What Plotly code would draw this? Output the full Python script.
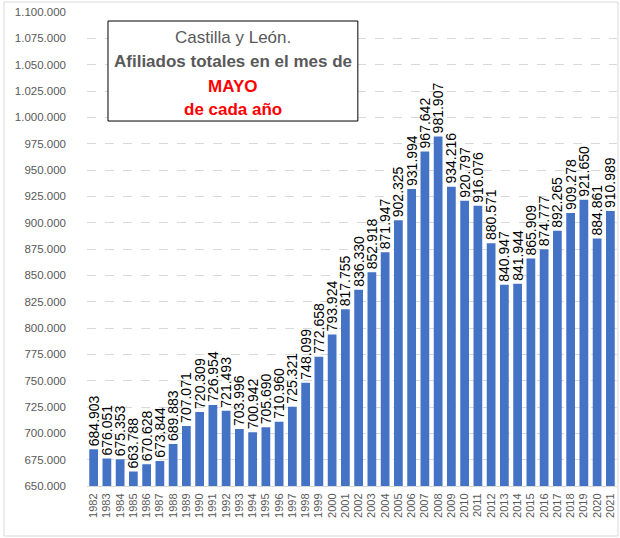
import plotly.graph_objects as go

years = [str(y) for y in range(1982, 2022)]
afiliados = [684903, 676051, 675353, 663788, 670628, 673844, 689883, 707071, 720309, 726954,
             721493, 703996, 700942, 705690, 710960, 725321, 748099, 772658, 793924, 817755,
             836330, 852918, 871947, 902325, 931994, 967642, 981907, 934216, 920797, 916076,
             880571, 840947, 841944, 865909, 874777, 892265, 909278, 921650, 884861, 910989]

def fmt(v):
    return f"{v:,}".replace(",", ".")

tickvals = list(range(650000, 1100001, 25000))
ticktext = [fmt(v) for v in tickvals]

fig = go.Figure(go.Bar(
    x=years, y=afiliados,
    marker=dict(color="#4472C4", line=dict(width=0)),
    text=[fmt(v) for v in afiliados],
    textposition="outside", textangle=-90, constraintext="none",
    textfont=dict(family="Liberation Sans", size=14, color="#000000"),
    cliponaxis=False,
))

fig.update_layout(
    width=620, height=538,
    margin=dict(l=87, r=3, t=12, b=52),
    plot_bgcolor="white", paper_bgcolor="white",
    bargap=0.34,
    showlegend=False,
    font=dict(family="Liberation Sans", color="#595959"),
    xaxis=dict(tickangle=-90, tickfont=dict(size=11, color="#595959"),
               tickmode="array", tickvals=years, ticktext=years,
               showline=True, linecolor="#D9D9D9", ticks="", showgrid=False,
               ticklabelstandoff=2),
    yaxis=dict(range=[650000, 1100000], tickvals=tickvals, ticktext=ticktext,
               tickfont=dict(size=11.5, color="#595959"),
               showgrid=True, gridcolor="#D9D9D9", griddash="dash", zeroline=False,
               ticks="", ticklabelstandoff=20),
)

fig.add_shape(type="rect", xref="paper", yref="paper", x0=0.0396, x1=0.511, y0=0.770, y1=0.981,
              line=dict(color="#000000", width=1), fillcolor="white", layer="above")

lines = [
    ("Castilla y León.", "#595959", 0.947),
    ("<b>Afiliados totales en el mes de</b>", "#595959", 0.895),
    ("<b>MAYO</b>", "#FF0000", 0.842),
    ("<b>de cada año</b>", "#FF0000", 0.795),
]
for txt, col, yy in lines:
    fig.add_annotation(x=0.275, y=yy, xref="paper", yref="paper", text=txt, showarrow=False,
                       font=dict(family="Liberation Sans", size=17, color=col),
                       xanchor="center", yanchor="middle")

fig.add_shape(type="rect", xref="paper", yref="paper",
              x0=-83/530, x1=1 + 1/530, y0=-50/474, y1=1 + 10/474,
              line=dict(color="#D9D9D9", width=1), layer="below")

fig.write_html("out.html", config={"displayModeBar": False},
               post_script="document.body.style.margin='0';")
